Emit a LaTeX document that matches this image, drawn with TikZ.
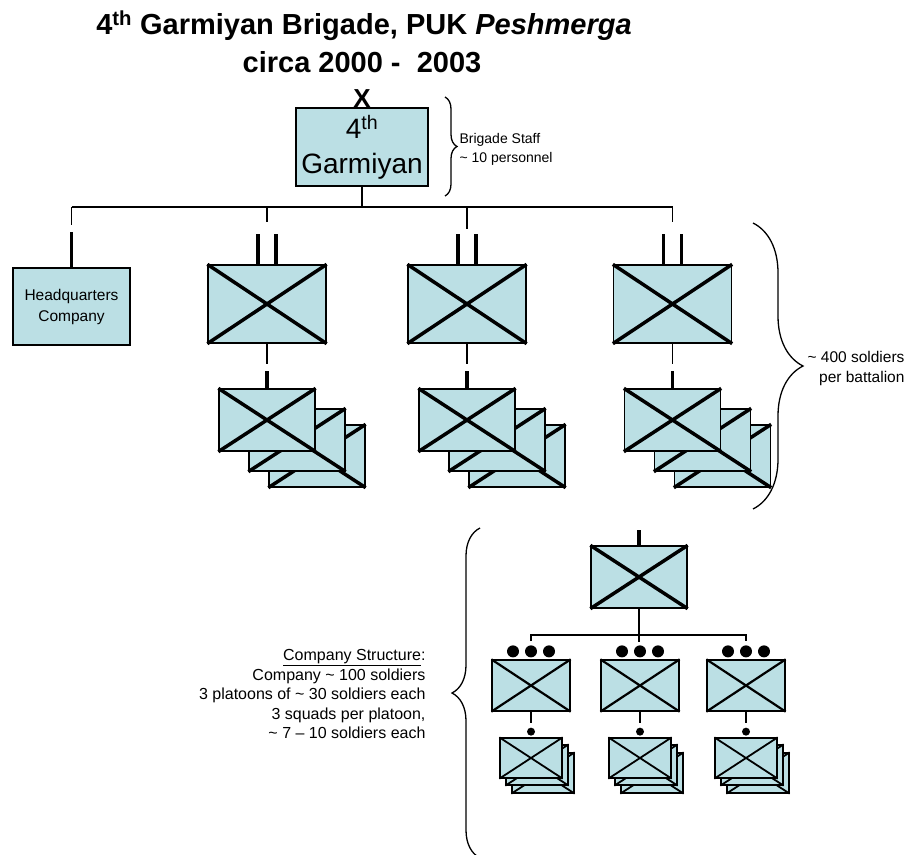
\documentclass[tikz,border=0pt]{standalone}
\usepackage{fontspec}
\setmainfont{Liberation Sans}
\usetikzlibrary{decorations.pathreplacing}
\definecolor{unitblue}{RGB}{187,223,228}

% diagonal cross through a unit box
\newcommand{\unitcross}[2]{%
  \draw[line width=#1] (#2.north west) -- (#2.south east) (#2.north east) -- (#2.south west);}

\begin{document}
\begin{tikzpicture}[x=1pt,y=-1pt]
        \tikzstyle{unit} = [draw, line width=1.3pt, fill=unitblue, inner sep=0pt]
        \tikzstyle{bn} = [unit, minimum width=118pt, minimum height=78pt]
        \tikzstyle{coy} = [unit, minimum width=96pt, minimum height=62pt]
        \tikzstyle{plt} = [unit, minimum width=78pt, minimum height=51pt]
        \tikzstyle{sqd} = [unit, minimum width=62pt, minimum height=40pt]
        \tikzstyle{link} = [line width=1.5pt]
        \tikzstyle{echelon} = [line width=3.5pt]
        \tikzstyle{curly} = [decorate, line width=1.3pt]
        \useasboundingbox (0,0) rectangle (912,854);

        % title
        \node[font=\bfseries\fontsize{29}{33}\selectfont] (title) at (364,26)
            {4\textsuperscript{th} Garmiyan Brigade, PUK \textit{Peshmerga}};
        \node[font=\bfseries\fontsize{29}{33}\selectfont] (dates) at (362,62) {circa 2000 -\ \ 2003};

        % brigade
        \node[unit, minimum width=132pt, minimum height=78pt, align=center,
              font=\fontsize{28}{35}\selectfont] (brig) at (362,147) {4\textsuperscript{th}\\Garmiyan};
        \node[font=\bfseries\fontsize{26}{26}\selectfont, inner sep=0pt, anchor=base] (xmark) at (362,107) {X};
        \draw[curly, decoration={brace, amplitude=12pt}] (445,97) -- (445,196);
        \node[anchor=west, align=left, font=\fontsize{14}{19}\selectfont] (staff) at (456,149)
            {Brigade Staff\\\textasciitilde{} 10 personnel};

        % bus under the brigade
        \coordinate (busL) at (71.5,207);
        \coordinate (busR) at (673,207);
        \draw[link] (brig.south) -- (brig.south |- busL);
        \draw[link] (busL) -- (busR);

        % headquarters company
        \node[unit, minimum width=117pt, minimum height=77pt, align=center,
              font=\fontsize{15.5}{21}\selectfont] (hq) at (71.5,306.5) {Headquarters\\Company};
        \draw[link] (busL) -- ++(0,18);
        \draw[echelon] (hq.north) -- ++(0,-35);

        % battalions with their companies
        \foreach \c/\n/\drop in {267/1/15, 467/2/22, 672.5/3/15} {
            \node[bn] (bn\n) at (\c,304) {};
            \unitcross{3.5pt}{bn\n}
            \draw[link] (\c,207) -- ++(0,\drop);
            \draw[echelon] (bn\n.north) ++(-9,0) -- ++(0,-30);
            \draw[echelon] (bn\n.north) ++(9,0) -- ++(0,-30);
            \node[coy] (co\n c) at (\c+50,456) {};
            \unitcross{3.5pt}{co\n c}
            \node[coy] (co\n b) at (\c+30,440) {};
            \unitcross{3.5pt}{co\n b}
            \node[coy] (co\n a) at (\c,420) {};
            \unitcross{3.5pt}{co\n a}
            \draw[link] (bn\n.south) -- ++(0,20);
            \draw[echelon] (co\n a.north) -- ++(0,-17);
        }
        \draw[curly, decoration={brace, amplitude=50pt}] (753,223) -- (753,509);
        \node[anchor=west, align=right, font=\fontsize{15.5}{20}\selectfont] (bnlabel) at (804,368)
            {\textasciitilde{} 400 soldiers\\per battalion};

        % company structure
        \node[coy] (coy) at (639,577) {};
        \unitcross{3.5pt}{coy}
        \draw[echelon] (coy.north) -- ++(0,-15);
        \draw[link] (coy.south) -- ++(0,33);
        \coordinate (plL) at (531,635);
        \coordinate (plR) at (746,635);
        \draw[link] (plL) ++(0,6) -- (plL) -- (plR) -- ++(0,6);
        \foreach \x/\n in {531/1, 640/2, 746/3} {
            \node[plt] (pl\n) at (\x,685.5) {};
            \unitcross{2.2pt}{pl\n}
            \foreach \dx in {-18,0,18}
                \fill (pl\n.north) ++(\dx,-8) circle (6);
            \draw[link] (pl\n.south) -- ++(0,11);
            \fill (pl\n.south) ++(0,20) circle (4);
            \node[sqd] (sq\n c) at (\x+12,773) {};
            \unitcross{1.8pt}{sq\n c}
            \node[sqd] (sq\n b) at (\x+6,765) {};
            \unitcross{1.8pt}{sq\n b}
            \node[sqd] (sq\n a) at (\x,758) {};
            \unitcross{1.8pt}{sq\n a}
        }
        \draw[curly, decoration={brace, amplitude=28pt}] (480,858) -- (480,528);
        \node[anchor=east, align=right, font=\fontsize{16}{19.5}\selectfont] (coylabel) at (429,694)
            {\underline{Company Structure}:\\Company \textasciitilde{} 100 soldiers\\
             3 platoons of \textasciitilde{} 30 soldiers each\\3 squads per platoon,\\
             \textasciitilde{} 7 -- 10 soldiers each};
\end{tikzpicture}
\end{document}
